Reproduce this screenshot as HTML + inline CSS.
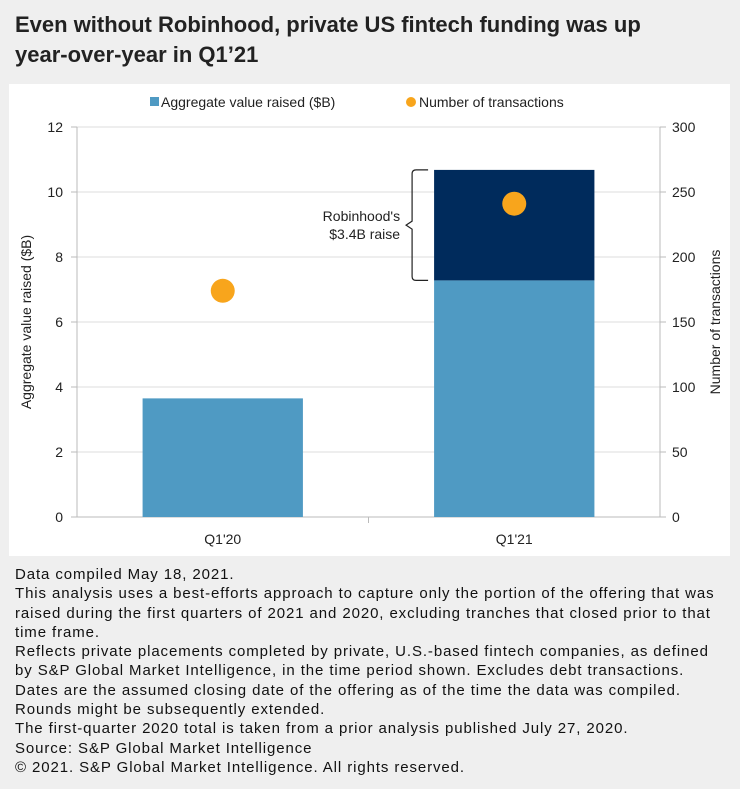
<!DOCTYPE html>
<html><head><meta charset="utf-8"><style>
body{margin:0;width:740px;height:789px;background:#efefef;font-family:"Liberation Sans",sans-serif;overflow:hidden}
#title{position:absolute;left:15px;top:10px;width:720px;font-size:22px;font-weight:bold;color:#222;line-height:30px;white-space:nowrap}
#panel{position:absolute;left:9px;top:84px;width:721px;height:472px;background:#fff}
#notes{position:absolute;left:15px;top:565px;width:720px;font-size:15px;letter-spacing:0.9px;line-height:19.3px;color:#111;white-space:nowrap}
</style></head><body>
<div id="title">Even without Robinhood, private US fintech funding was up<br>year-over-year in Q1’21</div>
<div id="panel"></div>
<svg id="chart" width="740" height="789" style="position:absolute;left:0;top:0"></svg>
<div id="notes">Data compiled May 18, 2021.<br>This analysis uses a best-efforts approach to capture only the portion of the offering that was<br>raised during the first quarters of 2021 and 2020, excluding tranches that closed prior to that<br>time frame.<br>Reflects private placements completed by private, U.S.-based fintech companies, as defined<br>by S&amp;P Global Market Intelligence, in the time period shown. Excludes debt transactions.<br>Dates are the assumed closing date of the offering as of the time the data was compiled.<br>Rounds might be subsequently extended.<br>The first-quarter 2020 total is taken from a prior analysis published July 27, 2020.<br>Source: S&amp;P Global Market Intelligence<br>© 2021. S&amp;P Global Market Intelligence. All rights reserved.</div>
<script>
const categories=["Q1'20","Q1'21"];
const baseValues=[3.65,7.28];
const robinhoodValues=[0,3.4];
const transactions=[174,241];
const leftTicks=[0,2,4,6,8,10,12];
const rightTicks=[0,50,100,150,200,250,300];
const NS="http://www.w3.org/2000/svg";
const svg=document.getElementById('chart');
const X0=77,X1=660,Y0=517,Y1=127;
const yL=v=>Y0-(v/12)*(Y0-Y1);
const yR=v=>Y0-(v/300)*(Y0-Y1);
const band=(X1-X0)/categories.length;
const xC=i=>X0+band*(i+0.5);
function mk(tag,attrs,text){const e=document.createElementNS(NS,tag);for(const k in attrs)e.setAttribute(k,attrs[k]);if(text!==undefined)e.textContent=text;svg.appendChild(e);return e;}
leftTicks.forEach((t,i)=>{
  const g=mk('line',{x1:X0,x2:X1,y1:yL(t),y2:yL(t),stroke:i==0?'#bbb':'#ddd','stroke-width':1});
  
  
  mk('line',{x1:X0-6,x2:X0,y1:yL(t),y2:yL(t),stroke:'#bbb'});
  const l=mk('text',{x:X0-14,y:yL(t)+5,'text-anchor':'end','font-size':14,fill:'#222'},t);
  
  
});
rightTicks.forEach(t=>{
  mk('line',{x1:X1,x2:X1+6,y1:yR(t),y2:yR(t),stroke:'#bbb'});
  const l=mk('text',{x:X1+12,y:yR(t)+5,'font-size':14,fill:'#222'},t);
  
  
});
mk('line',{x1:X0,x2:X0,y1:Y1,y2:Y0,stroke:'#bbb'});
mk('line',{x1:X1,x2:X1,y1:Y1,y2:Y0,stroke:'#bbb'});
mk('line',{x1:X0+band,x2:X0+band,y1:Y0,y2:Y0+6,stroke:'#bbb'});
const bw=band*0.55;
categories.forEach((c,i)=>{
  const b=mk('rect',{x:xC(i)-bw/2,y:yL(baseValues[i]),width:bw,height:Y0-yL(baseValues[i]),fill:'#4f9ac3'});
  
  
  if(robinhoodValues[i]>0){
    const top=baseValues[i]+robinhoodValues[i];
    const r=mk('rect',{x:xC(i)-bw/2,y:yL(top),width:bw,height:yL(baseValues[i])-yL(top),fill:'#002b5c'});
    
    
    const bx=xC(i)-bw/2-6,ya=yL(top),yb=yL(baseValues[i]),ym=(ya+yb)/2;
    const br=mk('path',{d:`M${bx},${ya} L${bx-12},${ya} Q${bx-16},${ya} ${bx-16},${ya+4} L${bx-16},${ym-4} L${bx-22},${ym} L${bx-16},${ym+4} L${bx-16},${yb-4} Q${bx-16},${yb} ${bx-12},${yb} L${bx},${yb}`,fill:'none',stroke:'#222','stroke-width':1.2});
    
    
    const t1=mk('text',{x:bx-28,y:ym-4,'text-anchor':'end','font-size':14,fill:'#222'},"Robinhood's");
    
    
    const t2=mk('text',{x:bx-28,y:ym+14,'text-anchor':'end','font-size':14,fill:'#222'},"$3.4B raise");
    
    
  }
  const d=mk('circle',{cx:xC(i),cy:yR(transactions[i]),r:12,fill:'#f8a51c'});
  
  
  const l=mk('text',{x:xC(i),y:Y0+27,'text-anchor':'middle','font-size':14,fill:'#222'},c);
  
  
});
const yt=mk('text',{transform:`translate(31,322) rotate(-90)`,'text-anchor':'middle','font-size':14,fill:'#222'},'Aggregate value raised ($B)');


const yt2=mk('text',{transform:`translate(720,322) rotate(-90)`,'text-anchor':'middle','font-size':14,fill:'#222'},'Number of transactions');


const lg1=mk('rect',{x:150,y:97,width:9,height:9,fill:'#4f9ac3'});


const lt1=mk('text',{x:161,y:107,'font-size':14,fill:'#222'},'Aggregate value raised ($B)');


const lg2=mk('circle',{cx:411,cy:102,r:5,fill:'#f8a51c'});


const lt2=mk('text',{x:419,y:107,'font-size':14,fill:'#222'},'Number of transactions');


</script>
</body></html>
